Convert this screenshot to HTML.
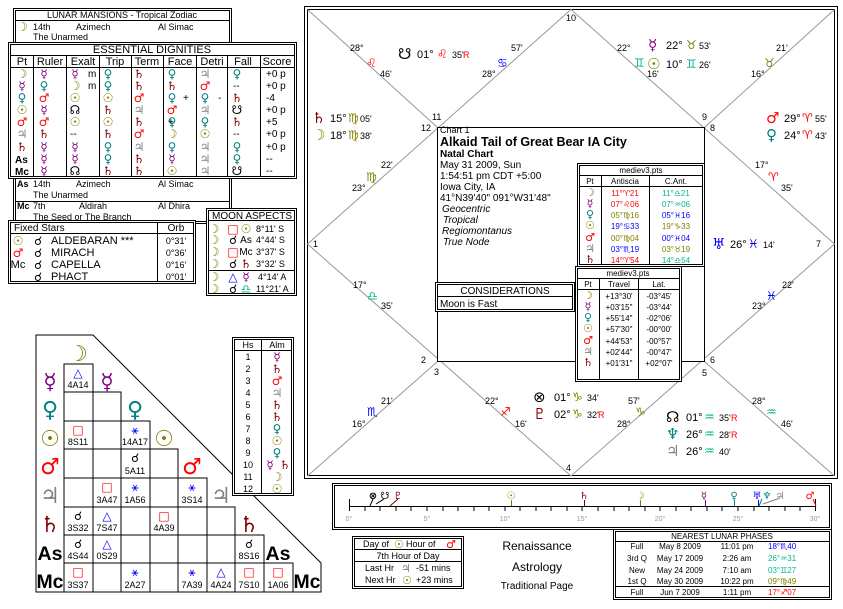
<!DOCTYPE html>
<html><head><meta charset="utf-8"><style>
body{margin:0;background:#fff}
svg{display:block;font-family:"Liberation Sans","DejaVu Sans",sans-serif;font-size:10px}
text{fill:#000}
.g{font-family:"DejaVu Sans",sans-serif}
.mo{fill:#808000}.me{fill:#800080}.ve{fill:#008080}.su{fill:#808000}.ma{fill:#f00}.ju{fill:#808080}.sa{fill:#800000}.bl{fill:#00f}.tl{fill:#00b890}.ol{fill:#808000}
.c{text-anchor:middle}
.s9{font-size:9px}.s8{font-size:8px}
</style></head><body>
<svg width="843" height="609" viewBox="0 0 843 609" xmlns="http://www.w3.org/2000/svg">
<rect width="843" height="609" fill="#fff"/>
<g fill="none" stroke="#000">
<rect x="304.5" y="6.5" width="533" height="472"/>
<rect x="307.5" y="9.5" width="527" height="466"/>
</g>
<g stroke="#999" fill="none">
<polygon points="571,9.5 307.5,244 571,476 834.5,244"/>
<line x1="307.5" y1="9.5" x2="437" y2="127"/><line x1="834.5" y1="9.5" x2="705" y2="127"/>
<line x1="307.5" y1="476" x2="437" y2="362"/><line x1="834.5" y1="476" x2="705" y2="362"/>
</g>
<rect x="437.5" y="127.5" width="267" height="234" fill="#fff" stroke="#000"/>
<g class="s9"><text x="566" y="21">10</text><text x="432" y="120">11</text><text x="421" y="131">12</text><text x="702" y="120">9</text><text x="710" y="131">8</text><text x="313" y="247">1</text><text x="816" y="247">7</text><text x="421" y="363">2</text><text x="434" y="375">3</text><text x="702" y="376">5</text><text x="710" y="363">6</text><text x="566" y="471">4</text></g>
<g class="s9">
<text x="350" y="51">28°</text><text x="366" y="67" class="g ma" font-size="12">♌</text><text x="380" y="77">46'</text>
<text x="511" y="51">57'</text><text x="497" y="67" class="g bl" font-size="12">♋</text><text x="482" y="77">28°</text>
<text x="617" y="51">22°</text><text x="634" y="67" class="g tl" font-size="12">♊</text><text x="647" y="77">16'</text>
<text x="776" y="51">21'</text><text x="764" y="67" class="g ol" font-size="12">♉</text><text x="751" y="77">16°</text>
<text x="381" y="168">22'</text><text x="366" y="181" class="g ol" font-size="12">♍</text><text x="352" y="191">23°</text>
<text x="755" y="168">17°</text><text x="768" y="181" class="g ma" font-size="12">♈</text><text x="781" y="191">35'</text>
<text x="353" y="288">17°</text><text x="367" y="300" class="g tl" font-size="12">♎</text><text x="381" y="309">35'</text>
<text x="782" y="288">22'</text><text x="766" y="300" class="g bl" font-size="12">♓</text><text x="752" y="309">23°</text>
<text x="381" y="404">21'</text><text x="367" y="416" class="g bl" font-size="12">♏</text><text x="352" y="427">16°</text>
<text x="485" y="404">22°</text><text x="500" y="416" class="g ma" font-size="12">♐</text><text x="515" y="427">16'</text>
<text x="628" y="404">57'</text><text x="635" y="416" class="g ol" font-size="12">♑</text><text x="617" y="427">28°</text>
<text x="752" y="404">28°</text><text x="766" y="416" class="g tl" font-size="12">♒</text><text x="781" y="427">46'</text>
</g>
<g font-size="11">
<text x="398" y="59" class="g" font-size="15" font-weight="bold">☋</text><text x="417" y="58">01°</text><text x="437" y="58" class="g ma" font-size="12">♌</text><text x="452" y="58" class="s9">35'</text><text x="463" y="58" class="s9 ma">R</text>
<text x="648" y="50" class="g me" font-size="15">☿</text><text x="666" y="49">22°</text><text x="686" y="49" class="g ol" font-size="12">♉</text><text x="699" y="49" class="s9">53'</text>
<text x="647" y="69" class="g su" font-size="15">☉</text><text x="666" y="68">10°</text><text x="686" y="68" class="g tl" font-size="12">♊</text><text x="699" y="68" class="s9">26'</text>
<text x="312" y="123" class="g sa" font-size="15">♄</text><text x="330" y="122">15°</text><text x="348" y="122" class="g ol" font-size="12">♍</text><text x="360" y="122" class="s9">05'</text>
<text x="312" y="140" class="g mo" font-size="15">☽</text><text x="330" y="139">18°</text><text x="348" y="139" class="g ol" font-size="12">♍</text><text x="360" y="139" class="s9">38'</text>
<text x="766" y="123" class="g ma" font-size="15">♂</text><text x="784" y="122">29°</text><text x="802" y="122" class="g ma" font-size="12">♈</text><text x="815" y="122" class="s9">55'</text>
<text x="766" y="140" class="g ve" font-size="15">♀</text><text x="784" y="139">24°</text><text x="802" y="139" class="g ma" font-size="12">♈</text><text x="815" y="139" class="s9">43'</text>
<text x="712" y="249" class="g bl" font-size="15">♅</text><text x="730" y="248">26°</text><text x="748" y="248" class="g bl" font-size="12">♓</text><text x="763" y="248" class="s9">14'</text>
<text x="533" y="402" class="g" font-size="15">⊗</text><text x="554" y="401">01°</text><text x="572" y="401" class="g ol" font-size="12">♑</text><text x="587" y="401" class="s9">34'</text>
<text x="533" y="419" class="g sa" font-size="15">♇</text><text x="554" y="418">02°</text><text x="572" y="418" class="g ol" font-size="12">♑</text><text x="587" y="418" class="s9">32'</text><text x="598" y="418" class="s9 ma">R</text>
<text x="666" y="422" class="g" font-size="15" font-weight="bold">☊</text><text x="686" y="421">01°</text><text x="704" y="421" class="g tl" font-size="12">♒</text><text x="719" y="421" class="s9">35'</text><text x="731" y="421" class="s9 ma">R</text>
<text x="666" y="439" class="g ve" font-size="15">♆</text><text x="686" y="438">26°</text><text x="704" y="438" class="g tl" font-size="12">♒</text><text x="719" y="438" class="s9">28'</text><text x="731" y="438" class="s9 ma">R</text>
<text x="666" y="456" class="g ju" font-size="15">♃</text><text x="686" y="455">26°</text><text x="704" y="455" class="g tl" font-size="12">♒</text><text x="719" y="455" class="s9">40'</text>
</g>
<text x="440" y="133" class="s9">Chart 1</text>
<text x="440" y="146" font-size="12.5" font-weight="bold">Alkaid Tail of Great Bear IA City</text>
<text x="440" y="157" font-weight="bold">Natal Chart</text>
<text x="440" y="168">May 31 2009, Sun</text>
<text x="440" y="179">1:54:51 pm  CDT +5:00</text>
<text x="440" y="190">Iowa City, IA</text>
<text x="440" y="201">41°N39'40" 091°W31'48"</text>
<g font-style="italic"><text x="442" y="212">Geocentric</text><text x="443" y="223">Tropical</text><text x="442" y="234">Regiomontanus</text><text x="443" y="245">True Node</text></g>
<rect x="435.5" y="282.5" width="139" height="29" fill="#fff" stroke="#000"/>
<rect x="437.5" y="284.5" width="135" height="25" fill="none" stroke="#000"/>
<line x1="437" y1="296.5" x2="572" y2="296.5" stroke="#000"/>
<text x="505" y="294" class="c">CONSIDERATIONS</text>
<text x="440" y="307">Moon is Fast</text>
<rect x="577.5" y="163.5" width="127" height="103" fill="#fff" stroke="#000"/>
<rect x="579.5" y="165.5" width="123" height="99" fill="none" stroke="#000"/>
<g stroke="#000"><line x1="579" y1="175.5" x2="703" y2="175.5"/><line x1="579" y1="186.5" x2="703" y2="186.5"/><line x1="601.5" y1="175" x2="601.5" y2="265"/><line x1="649.5" y1="175" x2="649.5" y2="265"/></g>
<g class="s8"><text x="641" y="173" class="c">mediev3.pts</text><text x="590" y="184" class="c">Pt</text><text x="625" y="184" class="c">Antiscia</text><text x="676" y="184" class="c">C.Ant.</text>
<text x="590" y="196" class="c g mo" font-size="11">☽</text><text x="625" y="196" class="c ma">11°♈21</text><text x="676" y="196" class="c tl">11°♎21</text>
<text x="590" y="207" class="c g me" font-size="11">☿</text><text x="625" y="207" class="c ma">07°♌06</text><text x="676" y="207" class="c tl">07°♒06</text>
<text x="590" y="218" class="c g ve" font-size="11">♀</text><text x="625" y="218" class="c ol">05°♍16</text><text x="676" y="218" class="c bl">05°♓16</text>
<text x="590" y="229" class="c g su" font-size="11">☉</text><text x="625" y="229" class="c bl">19°♋33</text><text x="676" y="229" class="c ol">19°♑33</text>
<text x="590" y="241" class="c g ma" font-size="11">♂</text><text x="625" y="241" class="c ol">00°♍04</text><text x="676" y="241" class="c bl">00°♓04</text>
<text x="590" y="252" class="c g ju" font-size="11">♃</text><text x="625" y="252" class="c bl">03°♏19</text><text x="676" y="252" class="c ol">03°♉19</text>
<text x="590" y="263" class="c g sa" font-size="11">♄</text><text x="625" y="263" class="c ma">14°♈54</text><text x="676" y="263" class="c tl">14°♎54</text></g>
<rect x="575.5" y="266.5" width="106" height="115" fill="#fff" stroke="#000"/>
<rect x="577.5" y="268.5" width="102" height="111" fill="none" stroke="#000"/>
<g stroke="#000"><line x1="577" y1="278.5" x2="680" y2="278.5"/><line x1="577" y1="289.5" x2="680" y2="289.5"/><line x1="599.5" y1="278" x2="599.5" y2="380"/><line x1="638.5" y1="278" x2="638.5" y2="380"/></g>
<g class="s8"><text x="628" y="276" class="c">mediev3.pts</text><text x="588" y="287" class="c">Pt</text><text x="619" y="287" class="c">Travel</text><text x="659" y="287" class="c">Lat.</text>
<text x="588" y="299" class="c g mo" font-size="11">☽</text><text x="619" y="299" class="c">+13°30'</text><text x="659" y="299" class="c">-03°45'</text>
<text x="588" y="310" class="c g me" font-size="11">☿</text><text x="619" y="310" class="c">+03'15"</text><text x="659" y="310" class="c">-03°44'</text>
<text x="588" y="321" class="c g ve" font-size="11">♀</text><text x="619" y="321" class="c">+55'14"</text><text x="659" y="321" class="c">-02°06'</text>
<text x="588" y="332" class="c g su" font-size="11">☉</text><text x="619" y="332" class="c">+57'30"</text><text x="659" y="332" class="c">-00°00'</text>
<text x="588" y="344" class="c g ma" font-size="11">♂</text><text x="619" y="344" class="c">+44'53"</text><text x="659" y="344" class="c">-00°57'</text>
<text x="588" y="355" class="c g ju" font-size="11">♃</text><text x="619" y="355" class="c">+02'44"</text><text x="659" y="355" class="c">-00°47'</text>
<text x="588" y="366" class="c g sa" font-size="11">♄</text><text x="619" y="366" class="c">+01'31"</text><text x="659" y="366" class="c">+02°07'</text></g>

<rect x="13.5" y="8.5" width="218" height="215" fill="#fff" stroke="#000"/>
<rect x="15.5" y="10.5" width="214" height="211" fill="none" stroke="#000"/>
<line x1="15" y1="20.5" x2="230" y2="20.5" stroke="#000"/>
<text x="122" y="18" class="c s9">LUNAR MANSIONS - Tropical Zodiac</text>
<g class="s9"><text x="17" y="31" class="g mo" font-size="12" font-weight="bold">☽</text><text x="33" y="30">14th</text><text x="76" y="30">Azimech</text><text x="158" y="30">Al Simac</text><text x="33" y="40">The Unarmed</text>
<text x="17" y="187" font-weight="bold">As</text><text x="33" y="187">14th</text><text x="76" y="187">Azimech</text><text x="158" y="187">Al Simac</text><text x="33" y="198">The Unarmed</text>
<text x="17" y="209" font-weight="bold">Mc</text><text x="33" y="209">7th</text><text x="79" y="209">Aldirah</text><text x="158" y="209">Al Dhira</text><text x="33" y="220">The Seed or The Branch</text></g>
<line x1="15" y1="201.5" x2="230" y2="201.5" stroke="#000"/>
<rect x="8.5" y="42.5" width="288" height="136" fill="#fff" stroke="#000"/>
<rect x="10.5" y="44.5" width="284" height="132" fill="none" stroke="#000"/>
<g stroke="#000"><line x1="10" y1="55.5" x2="295" y2="55.5"/><line x1="10" y1="67.5" x2="295" y2="67.5"/>
<line x1="33.5" y1="55" x2="33.5" y2="177"/><line x1="66.5" y1="55" x2="66.5" y2="177"/><line x1="99.5" y1="55" x2="99.5" y2="177"/><line x1="131.5" y1="55" x2="131.5" y2="177"/><line x1="163.5" y1="55" x2="163.5" y2="177"/><line x1="196.5" y1="55" x2="196.5" y2="177"/><line x1="227.5" y1="55" x2="227.5" y2="177"/><line x1="260.5" y1="55" x2="260.5" y2="177"/></g>
<text x="152" y="53" class="c" font-size="11">ESSENTIAL DIGNITIES</text>
<g class="c" font-size="11"><text x="22" y="65">Pt</text><text x="50" y="65">Ruler</text><text x="83" y="65">Exalt</text><text x="115" y="65">Trip</text><text x="147" y="65">Term</text><text x="180" y="65">Face</text><text x="212" y="65">Detri</text><text x="243" y="65">Fall</text><text x="277" y="65">Score</text></g>
<g class="g c" font-size="12">
<text x="22" y="78" class="mo" font-weight="bold">☽</text><text x="44" y="78" class="me">☿</text><text x="75" y="78" class="me">☿</text><text x="108" y="78" class="ve">♀</text><text x="139" y="78" class="sa">♄</text><text x="172" y="78" class="ve">♀</text><text x="205" y="78" class="ju">♃</text><text x="237" y="78" class="ve">♀</text>
<text x="22" y="90" class="me" font-weight="bold">☿</text><text x="44" y="90" class="ve">♀</text><text x="75" y="90" class="mo">☽</text><text x="108" y="90" class="ve">♀</text><text x="139" y="90" class="sa">♄</text><text x="172" y="90" class="sa">♄</text><text x="205" y="90" class="ma">♂</text>
<text x="22" y="102" class="ve" font-weight="bold">♀</text><text x="44" y="102" class="ma">♂</text><text x="75" y="102" class="su">☉</text><text x="108" y="102" class="su">☉</text><text x="139" y="102" class="ma">♂</text><text x="172" y="102" class="ve">♀</text><text x="205" y="102" class="ve">♀</text><text x="237" y="102" class="sa">♄</text>
<text x="22" y="114" class="su" font-weight="bold">☉</text><text x="44" y="114" class="me">☿</text><text x="75" y="114">☊</text><text x="108" y="114" class="sa">♄</text><text x="139" y="114" class="ju">♃</text><text x="172" y="114" class="ma">♂</text><text x="205" y="114" class="ju">♃</text><text x="237" y="114">☋</text>
<text x="22" y="126" class="ma" font-weight="bold">♂</text><text x="44" y="126" class="ma">♂</text><text x="75" y="126" class="su">☉</text><text x="108" y="126" class="su">☉</text><text x="139" y="126" class="sa">♄</text><text x="172" y="126" class="ve">♀</text><text x="205" y="126" class="ve">♀</text><text x="237" y="126" class="sa">♄</text>
<text x="22" y="138" class="ju" font-weight="bold">♃</text><text x="44" y="138" class="sa">♄</text><text x="108" y="138" class="sa">♄</text><text x="139" y="138" class="ma">♂</text><text x="172" y="138" class="mo">☽</text><text x="205" y="138" class="su">☉</text>
<text x="22" y="151" class="sa" font-weight="bold">♄</text><text x="44" y="151" class="me">☿</text><text x="75" y="151" class="me">☿</text><text x="108" y="151" class="ve">♀</text><text x="139" y="151" class="ju">♃</text><text x="172" y="151" class="ve">♀</text><text x="205" y="151" class="ju">♃</text><text x="237" y="151" class="ve">♀</text>
<text x="44" y="163" class="me">☿</text><text x="75" y="163" class="me">☿</text><text x="108" y="163" class="ve">♀</text><text x="139" y="163" class="sa">♄</text><text x="172" y="163" class="me">☿</text><text x="205" y="163" class="ju">♃</text><text x="237" y="163" class="ve">♀</text>
<text x="44" y="175" class="me">☿</text><text x="75" y="175">☊</text><text x="108" y="175" class="sa">♄</text><text x="139" y="175" class="sa">♄</text><text x="172" y="175" class="su">☉</text><text x="205" y="175" class="ju">♃</text><text x="237" y="175">☋</text>
</g>
<g font-size="10"><text x="15" y="163" font-weight="bold">As</text><text x="15" y="175" font-weight="bold">Mc</text>
<text x="88" y="77">m</text><text x="88" y="89">m</text><text x="183" y="101">+</text><text x="218" y="101">-</text><text x="168" y="125">+</text>
<text x="70" y="137">--</text><text x="233" y="89">--</text><text x="233" y="137">--</text>
<text x="266" y="77">+0  p</text><text x="266" y="89">+0  p</text><text x="266" y="101">-4</text><text x="266" y="113">+0  p</text><text x="266" y="125">+5</text><text x="266" y="137">+0  p</text><text x="266" y="150">+0  p</text><text x="266" y="162">--</text><text x="266" y="174">--</text></g>
<rect x="8.5" y="220.5" width="187" height="63" fill="#fff" stroke="#000"/>
<rect x="10.5" y="222.5" width="183" height="59" fill="none" stroke="#000"/>
<g stroke="#000"><line x1="10" y1="233.5" x2="194" y2="233.5"/><line x1="157.5" y1="222" x2="157.5" y2="282"/></g>
<text x="14" y="231">Fixed Stars</text><text x="176" y="231" class="c">Orb</text>
<g font-size="11"><text x="18" y="245" class="g c su" font-size="12">☉</text><text x="38" y="245" class="g c" font-size="12">☌</text><text x="51" y="244">ALDEBARAN ***</text><text x="176" y="244" class="c s9">0°31'</text>
<text x="18" y="257" class="g c ma" font-size="12">♂</text><text x="38" y="257" class="g c" font-size="12">☌</text><text x="51" y="256">MIRACH</text><text x="176" y="256" class="c s9">0°36'</text>
<text x="18" y="268" class="c">Mc</text><text x="38" y="269" class="g c" font-size="12">☌</text><text x="51" y="268">CAPELLA</text><text x="176" y="268" class="c s9">0°16'</text>
<text x="38" y="281" class="g c" font-size="12">☌</text><text x="51" y="280">PHACT</text><text x="176" y="280" class="c s9">0°01'</text></g>
<rect x="206.5" y="208.5" width="90" height="87" fill="#fff" stroke="#000"/>
<rect x="208.5" y="210.5" width="86" height="83" fill="none" stroke="#000"/>
<g stroke="#000"><line x1="208" y1="220.5" x2="295" y2="220.5"/><line x1="208" y1="270.5" x2="295" y2="270.5"/></g>
<text x="252" y="219" class="c">MOON ASPECTS</text>
<g class="s9"><text x="214" y="233" class="g c mo" font-size="12">☽</text><text x="233" y="233" class="g c ma" font-size="12">□</text><text x="246" y="233" class="g c su" font-size="12">☉</text><text x="256" y="232">8°11' S</text>
<text x="214" y="244" class="g c mo" font-size="12">☽</text><text x="233" y="244" class="g c" font-size="12">☌</text><text x="246" y="243" class="c" font-size="10">As</text><text x="256" y="243">4°44' S</text>
<text x="214" y="256" class="g c mo" font-size="12">☽</text><text x="233" y="256" class="g c ma" font-size="12">□</text><text x="246" y="255" class="c" font-size="10">Mc</text><text x="256" y="255">3°37' S</text>
<text x="214" y="268" class="g c mo" font-size="12">☽</text><text x="233" y="268" class="g c" font-size="12">☌</text><text x="246" y="268" class="g c sa" font-size="12">♄</text><text x="256" y="267">3°32' S</text>
<text x="214" y="281" class="g c mo" font-size="12">☽</text><text x="233" y="281" class="g c bl" font-size="12">△</text><text x="246" y="281" class="g c me" font-size="12">☿</text><text x="258" y="280">4°14' A</text>
<text x="214" y="293" class="g c mo" font-size="12">☽</text><text x="233" y="293" class="g c" font-size="12">☌</text><text x="246" y="293" class="g c tl" font-size="12">♎</text><text x="256" y="292">11°21' A</text></g>

<polygon points="36,335 93,335 321,563 321,592 36,592" fill="#fff" stroke="#000"/>
<g fill="none" stroke="#000">
<rect x="64" y="364" width="29" height="28"/>
<rect x="64" y="392" width="29" height="29"/><rect x="93" y="392" width="28" height="29"/>
<rect x="64" y="421" width="29" height="28"/><rect x="93" y="421" width="28" height="28"/><rect x="121" y="421" width="29" height="28"/>
<rect x="64" y="449" width="29" height="29"/><rect x="93" y="449" width="28" height="29"/><rect x="121" y="449" width="29" height="29"/><rect x="150" y="449" width="28" height="29"/>
<rect x="64" y="478" width="29" height="29"/><rect x="93" y="478" width="28" height="29"/><rect x="121" y="478" width="29" height="29"/><rect x="150" y="478" width="28" height="29"/><rect x="178" y="478" width="29" height="29"/>
<rect x="64" y="507" width="29" height="28"/><rect x="93" y="507" width="28" height="28"/><rect x="121" y="507" width="29" height="28"/><rect x="150" y="507" width="28" height="28"/><rect x="178" y="507" width="29" height="28"/><rect x="207" y="507" width="28" height="28"/>
<rect x="64" y="535" width="29" height="28"/><rect x="93" y="535" width="28" height="28"/><rect x="121" y="535" width="29" height="28"/><rect x="150" y="535" width="28" height="28"/><rect x="178" y="535" width="29" height="28"/><rect x="207" y="535" width="28" height="28"/><rect x="235" y="535" width="29" height="28"/>
<rect x="64" y="563" width="29" height="29"/><rect x="93" y="563" width="28" height="29"/><rect x="121" y="563" width="29" height="29"/><rect x="150" y="563" width="28" height="29"/><rect x="178" y="563" width="29" height="29"/><rect x="207" y="563" width="28" height="29"/><rect x="235" y="563" width="29" height="29"/><rect x="264" y="563" width="29" height="29"/>
</g>
<g class="g c" font-size="22" font-weight="bold">
<text x="78" y="361" class="mo">☽</text>
<text x="50" y="389" class="me">☿</text><text x="107" y="389" class="me">☿</text>
<text x="50" y="417" class="ve">♀</text><text x="135" y="417" class="ve">♀</text>
<text x="50" y="446" class="su">☉</text><text x="164" y="446" class="su">☉</text>
<text x="50" y="474" class="ma">♂</text><text x="192" y="474" class="ma">♂</text>
<text x="50" y="503" class="ju">♃</text><text x="221" y="503" class="ju">♃</text>
<text x="50" y="532" class="sa">♄</text><text x="249" y="532" class="sa">♄</text>
</g>
<g font-size="19" font-weight="bold" class="c">
<text x="50" y="560" textLength="25" lengthAdjust="spacingAndGlyphs">As</text><text x="278" y="560" textLength="25" lengthAdjust="spacingAndGlyphs">As</text><text x="50" y="588" textLength="27" lengthAdjust="spacingAndGlyphs">Mc</text><text x="307" y="588" textLength="27" lengthAdjust="spacingAndGlyphs">Mc</text></g>
<g class="s9 c">
<text x="78" y="377" class="g bl" font-size="12">△</text><text x="78" y="388">4A14</text>
<text x="78" y="434" class="g ma" font-size="12">□</text><text x="78" y="445">8S11</text><text x="135" y="434" class="g bl" font-size="12">⚹</text><text x="135" y="445">14A17</text>
<text x="135" y="462" class="g" font-size="12" font-weight="bold">☌</text><text x="135" y="474">5A11</text>
<text x="107" y="491" class="g ma" font-size="12">□</text><text x="107" y="503">3A47</text><text x="135" y="491" class="g bl" font-size="12">⚹</text><text x="135" y="503">1A56</text><text x="192" y="491" class="g bl" font-size="12">⚹</text><text x="192" y="503">3S14</text>
<text x="78" y="520" class="g" font-size="12" font-weight="bold">☌</text><text x="78" y="531">3S32</text><text x="107" y="520" class="g bl" font-size="12">△</text><text x="107" y="531">7S47</text><text x="164" y="520" class="g ma" font-size="12">□</text><text x="164" y="531">4A39</text>
<text x="78" y="548" class="g" font-size="12" font-weight="bold">☌</text><text x="78" y="559">4S44</text><text x="107" y="548" class="g bl" font-size="12">△</text><text x="107" y="559">0S29</text><text x="249" y="548" class="g" font-size="12" font-weight="bold">☌</text><text x="249" y="559">8S16</text>
<text x="78" y="576" class="g ma" font-size="12">□</text><text x="78" y="588">3S37</text><text x="135" y="576" class="g bl" font-size="12">⚹</text><text x="135" y="588">2A27</text><text x="192" y="576" class="g bl" font-size="12">⚹</text><text x="192" y="588">7A39</text><text x="221" y="576" class="g bl" font-size="12">△</text><text x="221" y="588">4A24</text><text x="249" y="576" class="g ma" font-size="12">□</text><text x="249" y="588">7S10</text><text x="278" y="576" class="g ma" font-size="12">□</text><text x="278" y="588">1A06</text>
</g>
<rect x="232.5" y="337.5" width="61" height="158" fill="#fff" stroke="#000"/>
<rect x="234.5" y="339.5" width="57" height="154" fill="none" stroke="#000"/>
<g stroke="#000"><line x1="234" y1="350.5" x2="292" y2="350.5"/><line x1="261.5" y1="339" x2="261.5" y2="494"/></g>
<g class="s9 c"><text x="248" y="348">Hs</text><text x="277" y="348">Alm</text>
<text x="248" y="360">1</text><text x="248" y="372">2</text><text x="248" y="384">3</text><text x="248" y="396">4</text><text x="248" y="408">5</text><text x="248" y="420">6</text><text x="248" y="432">7</text><text x="248" y="444">8</text><text x="248" y="456">9</text><text x="248" y="468">10</text><text x="248" y="480">11</text><text x="248" y="492">12</text></g>
<g class="g c" font-size="12"><text x="277" y="361" class="me">☿</text><text x="277" y="373" class="sa">♄</text><text x="277" y="385" class="ma">♂</text><text x="277" y="397" class="ju">♃</text><text x="277" y="409" class="sa">♄</text><text x="277" y="421" class="sa">♄</text><text x="277" y="433" class="ve">♀</text><text x="277" y="445" class="su">☉</text><text x="277" y="457" class="ve">♀</text><text x="270" y="469" class="me">☿</text><text x="285" y="469" class="sa">♄</text><text x="277" y="481" class="mo">☽</text><text x="277" y="493" class="su">☉</text></g>

<rect x="332.5" y="483.5" width="499" height="46" fill="#fff" stroke="#000"/>
<rect x="334.5" y="485.5" width="495" height="42" fill="none" stroke="#000"/>
<line x1="349" y1="506.5" x2="816" y2="506.5" stroke="#000"/>
<line x1="349.5" y1="499" x2="349.5" y2="511" stroke="#000"/><line x1="815.5" y1="499" x2="815.5" y2="511" stroke="#000"/>
<path stroke="#000" d="M365 507v4M380 507v4M396 507v4M411 507v4M427 507v4M443 507v4M458 507v4M474 507v4M489 507v4M505 507v4M520 507v4M536 507v4M551 507v4M567 507v4M582 507v4M598 507v4M614 507v4M629 507v4M645 507v4M660 507v4M676 507v4M691 507v4M707 507v4M722 507v4M738 507v4M754 507v4M769 507v4M785 507v4M800 507v4"/>
<g font-size="7" class="c"><text x="349" y="521" style="fill:#999">0°</text><text x="427" y="521" style="fill:#999">5°</text><text x="505" y="521" style="fill:#999">10°</text><text x="582" y="521" style="fill:#999">15°</text><text x="660" y="521" style="fill:#999">20°</text><text x="738" y="521" style="fill:#999">25°</text><text x="815" y="521" style="fill:#999">30°</text></g>
<g fill="none"><path d="M373 499l-3 7" stroke="#000"/><path d="M384 499l-8 5" stroke="#000"/><path d="M398 499l-8 7" stroke="#800000"/><line x1="511.5" y1="500" x2="511.5" y2="506" stroke="#808000"/><line x1="584.5" y1="500" x2="584.5" y2="506" stroke="#800000"/><line x1="640.5" y1="500" x2="640.5" y2="506" stroke="#808000"/><line x1="705.5" y1="500" x2="705.5" y2="506" stroke="#800080"/><line x1="734.5" y1="500" x2="734.5" y2="506" stroke="#008080"/><line x1="758.5" y1="500" x2="758.5" y2="506" stroke="#00f"/><path d="M762 499l-3 7" stroke="#008080"/><path d="M780 498l-17 6" stroke="#808080"/><path d="M813 499l3 7" stroke="#f00"/></g>
<g class="g c" font-size="10" font-weight="bold"><text x="373" y="499">⊗</text><text x="385" y="499">☋</text><text x="398" y="499" class="sa">♇</text><text x="511" y="499" class="su">☉</text><text x="584" y="499" class="sa">♄</text><text x="640" y="499" class="mo">☽</text><text x="704" y="499" class="me">☿</text><text x="734" y="499" class="ve">♀</text><text x="757" y="499" class="bl">♅</text><text x="767" y="499" class="ve">♆</text><text x="780" y="499" class="ju">♃</text><text x="810" y="499" class="ma">♂</text></g>
<rect x="352.5" y="536.5" width="111" height="52" fill="#fff" stroke="#000"/>
<rect x="354.5" y="538.5" width="107" height="48" fill="none" stroke="#000"/>
<g stroke="#000"><line x1="354" y1="549.5" x2="462" y2="549.5"/><line x1="354" y1="561.5" x2="462" y2="561.5"/></g>
<g class="s9"><text x="363" y="547">Day of</text><text x="394" y="548" class="g su" font-size="11">☉</text><text x="406" y="547">Hour of</text><text x="446" y="548" class="g ma" font-size="11">♂</text>
<text x="408" y="559" class="c">7th Hour of Day</text>
<text x="365" y="571">Last Hr</text><text x="401" y="572" class="g ju" font-size="11">♃</text><text x="416" y="571">-51 mins</text>
<text x="365" y="583">Next Hr</text><text x="402" y="584" class="g su" font-size="11">☉</text><text x="416" y="583">+23 mins</text></g>
<text x="537" y="550" class="c" font-size="12">Renaissance</text>
<text x="537" y="571" class="c" font-size="12">Astrology</text>
<text x="537" y="589" class="c">Traditional Page</text>
<rect x="613.5" y="529.5" width="218" height="70" fill="#fff" stroke="#000"/>
<rect x="615.5" y="531.5" width="214" height="66" fill="none" stroke="#000"/>
<g stroke="#000"><line x1="615" y1="541.5" x2="830" y2="541.5"/><line x1="615" y1="586.5" x2="830" y2="586.5"/></g>
<g class="s8"><text x="722" y="539" class="c">NEAREST LUNAR PHASES</text>
<text x="637" y="549" class="c">Full</text><text x="680" y="549" class="c">May 8 2009</text><text x="737" y="549" class="c">11:01 pm</text><text x="768" y="549" class="bl">18°♏40</text>
<text x="637" y="561" class="c">3rd Q</text><text x="680" y="561" class="c">May 17 2009</text><text x="737" y="561" class="c">2:26 am</text><text x="768" y="561" class="tl">26°♒31</text>
<text x="637" y="573" class="c">New</text><text x="680" y="573" class="c">May 24 2009</text><text x="737" y="573" class="c">7:10 am</text><text x="768" y="573" class="tl">03°♊27</text>
<text x="637" y="584" class="c">1st Q</text><text x="680" y="584" class="c">May 30 2009</text><text x="737" y="584" class="c">10:22 pm</text><text x="768" y="584" class="ol">09°♍49</text>
<text x="637" y="595" class="c">Full</text><text x="680" y="595" class="c">Jun 7 2009</text><text x="737" y="595" class="c">1:11 pm</text><text x="768" y="595" class="ma">17°♐07</text></g>
</svg>
</body></html>
